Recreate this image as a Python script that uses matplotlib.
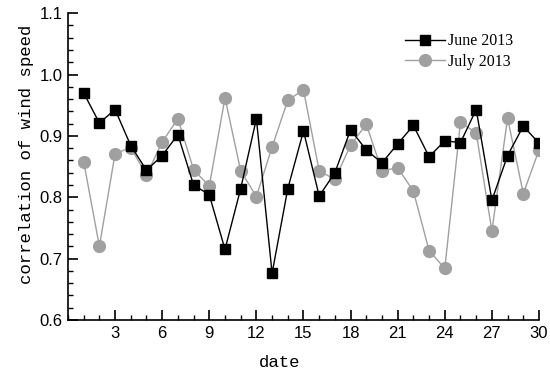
import numpy as np
import matplotlib
matplotlib.use("Agg")
import matplotlib.pyplot as plt
from matplotlib.ticker import MultipleLocator

# dias do mes
dates = list(range(1, 31))

june_2013 = [0.970, 0.921, 0.943, 0.884, 0.844, 0.868, 0.902, 0.820, 0.804, 0.715,
             0.814, 0.928, 0.676, 0.814, 0.908, 0.802, 0.840, 0.910, 0.877, 0.856,
             0.887, 0.917, 0.866, 0.892, 0.889, 0.943, 0.795, 0.868, 0.916, 0.888]

july_2013 = [0.858, 0.720, 0.871, 0.881, 0.836, 0.890, 0.928, 0.845, 0.818, 0.962,
             0.843, 0.801, 0.882, 0.958, 0.975, 0.843, 0.829, 0.885, 0.919, 0.843,
             0.848, 0.810, 0.713, 0.684, 0.922, 0.905, 0.745, 0.929, 0.806, 0.877]

x_ticks = [3, 6, 9, 12, 15, 18, 21, 24, 27, 30]
y_ticks = [0.6, 0.7, 0.8, 0.9, 1.0, 1.1]

fig = plt.figure(figsize=(5.5, 3.76), dpi=100)
ax = fig.add_axes([0.1236, 0.149, 0.8564, 0.816])

ax.plot(dates, june_2013, color='black', lw=1.0, marker='s', ms=7,
        label='June 2013', zorder=3)
ax.plot(dates, july_2013, color='#a0a0a0', lw=1.0, marker='o', ms=8.5,
        label='July 2013', zorder=2)

ax.set_xlim(0, 30)
ax.set_ylim(0.6, 1.1)
ax.set_xticks(x_ticks)
ax.set_yticks(y_ticks)
ax.set_yticklabels([f'{v:.1f}' for v in y_ticks])
ax.xaxis.set_minor_locator(MultipleLocator(1))
ax.yaxis.set_minor_locator(MultipleLocator(0.02))

for s in ['top', 'right']:
    ax.spines[s].set_visible(False)
for s in ['left', 'bottom']:
    ax.spines[s].set_linewidth(1.2)

ax.tick_params(which='major', direction='in', length=7, width=1.2, pad=4)
ax.tick_params(which='minor', direction='in', length=3.5, width=1.0)
for lbl in ax.get_xticklabels() + ax.get_yticklabels():
    lbl.set_fontfamily('Liberation Sans')
    lbl.set_fontsize(12)

ax.set_xlabel('date', fontfamily='Liberation Mono', fontsize=12.5)
ax.xaxis.set_label_coords(0.45, -0.115)
ax.set_ylabel('correlation of wind speed', fontfamily='Liberation Mono',
              fontsize=12.5)
ax.yaxis.set_label_coords(-0.072, 0.54)

ax.legend(loc='upper left', bbox_to_anchor=(0.715, 0.935), frameon=False,
          borderaxespad=0, borderpad=0,
          prop={'family': 'Liberation Serif', 'size': 11.5},
          handlelength=2.5, handletextpad=0.2, labelspacing=0.3)

fig.savefig('out.png', dpi=100)
